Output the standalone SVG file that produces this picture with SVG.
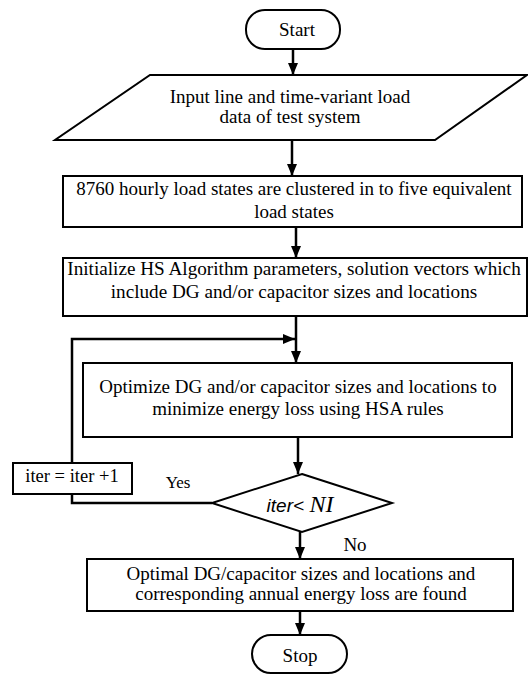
<svg xmlns="http://www.w3.org/2000/svg" width="528" height="675" viewBox="0 0 528 675">
<defs>
<style>
.n{fill:#fff;stroke:#000;stroke-width:2}
.c{fill:none;stroke:#000;stroke-width:2.5}
</style>
<marker id="ah" viewBox="0 0 12 10" refX="12" refY="5" markerWidth="12" markerHeight="10" markerUnits="userSpaceOnUse" orient="auto">
<path d="M0,0 L12,5 L0,10 z" fill="#000"/>
</marker>
</defs>
<rect width="528" height="675" fill="#fff"/>
<g id="connectors">
<path class="c" d="M293,49 V75" marker-end="url(#ah)"/>
<path class="c" d="M292,140 V176" marker-end="url(#ah)"/>
<path class="c" d="M296,227 V258" marker-end="url(#ah)"/>
<path class="c" d="M296,316 V363" marker-end="url(#ah)"/>
<path class="c" d="M298,437 V474" marker-end="url(#ah)"/>
<path class="c" d="M300,532 V559" marker-end="url(#ah)"/>
<path class="c" d="M300,611 V635" marker-end="url(#ah)"/>
<path class="c" d="M212,503 H72 V494"/>
<path class="c" d="M72,463 V339 H295" marker-end="url(#ah)"/>
</g>
<g id="start">
<rect class="n" x="246" y="10" width="94" height="39" rx="19" ry="19"/>
<text x="297" y="36" font-family="Liberation Serif" font-size="19" text-anchor="middle">Start</text>
</g>
<g id="input">
<polygon class="n" points="150,75 527,75 435,140 55,140"/>
<text x="290" y="103" font-family="Liberation Serif" font-size="19" text-anchor="middle">Input line and time-variant load</text>
<text x="290" y="123" font-family="Liberation Serif" font-size="19" text-anchor="middle">data of test system</text>
</g>
<g id="cluster">
<rect class="n" x="63" y="176" width="459" height="51"/>
<text x="294" y="195" font-family="Liberation Serif" font-size="19" text-anchor="middle">8760 hourly load states are clustered in to five equivalent</text>
<text x="294" y="218" font-family="Liberation Serif" font-size="19" text-anchor="middle">load states</text>
</g>
<g id="init">
<rect class="n" x="63" y="258" width="464" height="58"/>
<text x="294" y="275" font-family="Liberation Serif" font-size="19.2" text-anchor="middle">Initialize HS Algorithm parameters, solution vectors which</text>
<text x="294" y="298" font-family="Liberation Serif" font-size="19.2" text-anchor="middle">include DG and/or capacitor sizes and locations</text>
</g>
<g id="optimize">
<rect class="n" x="83" y="363" width="429" height="74"/>
<text x="298" y="393" font-family="Liberation Serif" font-size="19" text-anchor="middle">Optimize DG and/or capacitor sizes and locations to</text>
<text x="298" y="415" font-family="Liberation Serif" font-size="19" text-anchor="middle">minimize energy loss using HSA rules</text>
</g>
<g id="decision">
<polygon class="n" points="302,474 392,503 302,532 212,503"/>
<text x="300" y="512" text-anchor="middle"><tspan font-family="Liberation Sans" font-style="italic" font-size="19">iter&lt; </tspan><tspan font-family="Liberation Serif" font-style="italic" font-size="24">NI</tspan></text>
</g>
<g id="iter">
<rect class="n" x="13" y="463" width="119" height="31"/>
<text x="72" y="482" font-family="Liberation Serif" font-size="18.5" text-anchor="middle">iter = iter +1</text>
</g>
<text x="178" y="488" font-family="Liberation Serif" font-size="17" text-anchor="middle">Yes</text>
<text x="355" y="551" font-family="Liberation Serif" font-size="19" text-anchor="middle">No</text>
<g id="result">
<rect class="n" x="87" y="559" width="426" height="52"/>
<text x="301" y="580" font-family="Liberation Serif" font-size="19" text-anchor="middle">Optimal DG/capacitor sizes and locations and</text>
<text x="301" y="600" font-family="Liberation Serif" font-size="19" text-anchor="middle">corresponding annual energy loss are found</text>
</g>
<g id="stop">
<rect class="n" x="252" y="635" width="95" height="38" rx="19" ry="19"/>
<text x="300" y="662" font-family="Liberation Serif" font-size="19" text-anchor="middle">Stop</text>
</g>
</svg>
